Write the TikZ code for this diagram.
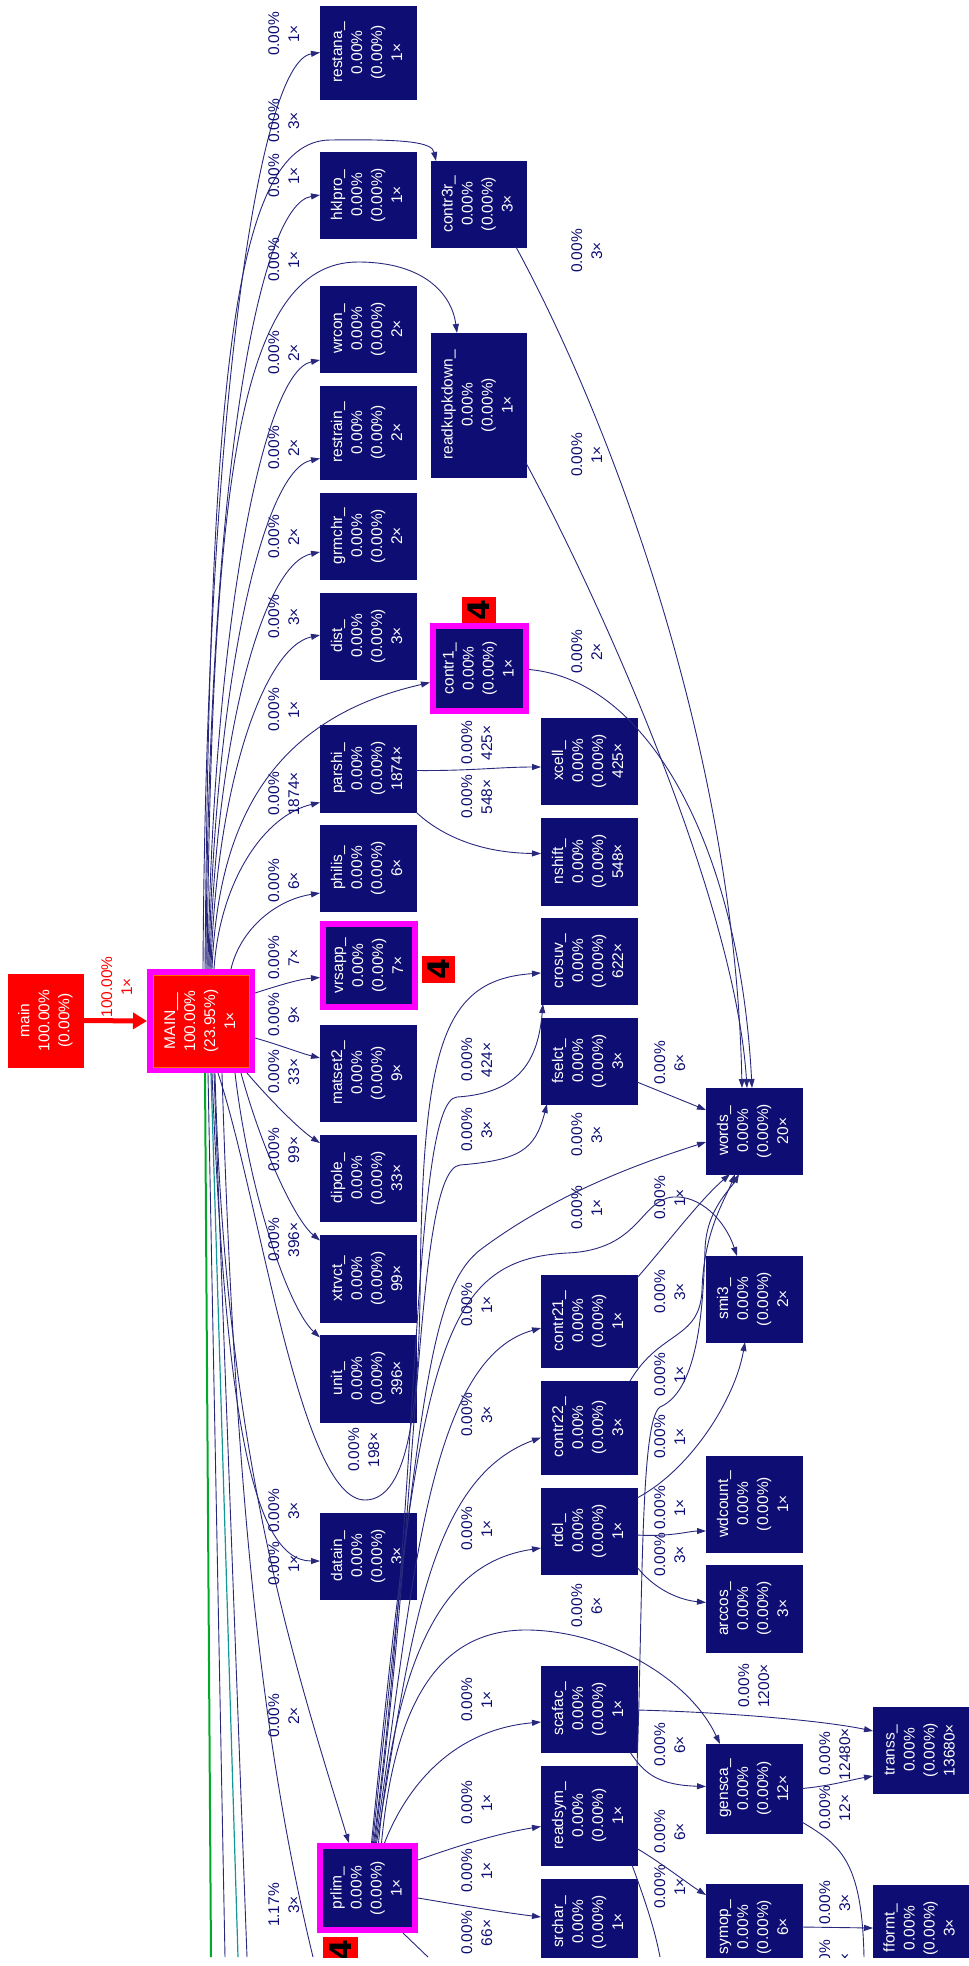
\documentclass[tikz,border=0pt]{standalone}
\usepackage{fontspec}
\setmainfont{Liberation Sans}
\newfontfamily\badgefont{DejaVu Sans}
\usetikzlibrary{arrows.meta,calc}
\definecolor{navy}{RGB}{13,13,115}
\definecolor{edgec}{RGB}{40,40,125}
\definecolor{mag}{RGB}{255,0,255}
\definecolor{grn}{RGB}{0,170,40}
\definecolor{teal2}{RGB}{20,150,150}
\newcommand\ntxt[1]{\rotatebox{90}{\begin{tabular}{@{}c@{}}#1\end{tabular}}}
\begin{document}
\begin{tikzpicture}[x=1pt,y=-1pt,
 fn/.style={rectangle, fill=navy, draw=navy, line width=0.5pt, inner sep=0pt, outer sep=0pt, text=white, font=\fontsize{15.5}{20}\selectfont},
 hl/.style={fn, draw=mag, line width=6pt, outer sep=3pt},
 lb/.style={inner sep=0pt, text=navy, font=\fontsize{15.5}{20}\selectfont},
 ed/.style={draw=edgec, line width=0.9pt, -{Triangle[length=9pt,width=6pt]}},
 fe/.style={draw=edgec, line width=0.9pt},
 badge/.style={rectangle, fill=red, inner sep=0pt, text=black, font=\badgefont\bfseries\fontsize{30}{30}\selectfont}
]
\useasboundingbox (0,0) rectangle (969,1966);
\begin{scope}
\clip (0,0) rectangle (969,1957);
% ---- nodes
\node[rectangle, fill=red, draw=red, text=white, minimum width=75, minimum height=93, inner sep=0pt, outer sep=0pt, font=\fontsize{15.5}{20}\selectfont] (main) at (45.5,1020.5) {\ntxt{main\\100.00\%\\(0.00\%)}};
\node[hl, fill=red, minimum width=102, minimum height=98] (MAIN) at (201,1021) {\ntxt{MAIN\_\_\\100.00\%\\(23.95\%)\\1×}};
\draw[orange!85!red, line width=1pt] ($(MAIN.north west)+(6,6)$) rectangle ($(MAIN.south east)+(-6,-6)$);

\node[fn, minimum width=96, minimum height=93] (restana) at (368,52.5) {\ntxt{restana\_\\0.00\%\\(0.00\%)\\1×}};
\node[fn, minimum width=96, minimum height=86] (hklpro) at (368,195) {\ntxt{hklpro\_\\0.00\%\\(0.00\%)\\1×}};
\node[fn, minimum width=96, minimum height=86] (wrcon) at (368,329) {\ntxt{wrcon\_\\0.00\%\\(0.00\%)\\2×}};
\node[fn, minimum width=96, minimum height=93] (restrain) at (368,432.5) {\ntxt{restrain\_\\0.00\%\\(0.00\%)\\2×}};
\node[fn, minimum width=96, minimum height=86] (grmchr) at (368,536) {\ntxt{grmchr\_\\0.00\%\\(0.00\%)\\2×}};
\node[fn, minimum width=96, minimum height=86] (dist) at (368,636) {\ntxt{dist\_\\0.00\%\\(0.00\%)\\3×}};
\node[fn, minimum width=96, minimum height=87] (parshi) at (368,768.5) {\ntxt{parshi\_\\0.00\%\\(0.00\%)\\1874×}};
\node[fn, minimum width=96, minimum height=86] (philis) at (368,868) {\ntxt{philis\_\\0.00\%\\(0.00\%)\\6×}};
\node[hl, minimum width=92, minimum height=83] (vrsapp) at (369,965.5) {\ntxt{vrsapp\_\\0.00\%\\(0.00\%)\\7×}};
\node[fn, minimum width=96, minimum height=96] (matset2) at (368,1073) {\ntxt{matset2\_\\0.00\%\\(0.00\%)\\9×}};
\node[fn, minimum width=96, minimum height=86] (dipole) at (368,1178) {\ntxt{dipole\_\\0.00\%\\(0.00\%)\\33×}};
\node[fn, minimum width=96, minimum height=87] (xtrvct) at (368,1278.5) {\ntxt{xtrvct\_\\0.00\%\\(0.00\%)\\99×}};
\node[fn, minimum width=96, minimum height=87] (unit) at (368,1378.5) {\ntxt{unit\_\\0.00\%\\(0.00\%)\\396×}};
\node[fn, minimum width=96, minimum height=86] (datain) at (368,1556) {\ntxt{datain\_\\0.00\%\\(0.00\%)\\3×}};
\node[hl, minimum width=95, minimum height=84] (prlim) at (367.5,1888) {\ntxt{prlim\_\\0.00\%\\(0.00\%)\\1×}};

\node[fn, minimum width=95, minimum height=86] (contr3r) at (478.5,204) {\ntxt{contr3r\_\\0.00\%\\(0.00\%)\\3×}};
\node[fn, minimum width=95, minimum height=144] (readkupkdown) at (478.5,405) {\ntxt{readkupkdown\_\\0.00\%\\(0.00\%)\\1×}};
\node[hl, minimum width=93, minimum height=85] (contr1) at (479.5,668.5) {\ntxt{contr1\_\\0.00\%\\(0.00\%)\\1×}};

\node[fn, minimum width=96, minimum height=86] (xcell) at (589,761) {\ntxt{xcell\_\\0.00\%\\(0.00\%)\\425×}};
\node[fn, minimum width=96, minimum height=87] (nshift) at (589,861.5) {\ntxt{nshift\_\\0.00\%\\(0.00\%)\\548×}};
\node[fn, minimum width=96, minimum height=86] (crosuv) at (589,961) {\ntxt{crosuv\_\\0.00\%\\(0.00\%)\\622×}};
\node[fn, minimum width=96, minimum height=86] (fselct) at (589,1061) {\ntxt{fselct\_\\0.00\%\\(0.00\%)\\3×}};
\node[fn, minimum width=96, minimum height=92] (contr21) at (589,1321) {\ntxt{contr21\_\\0.00\%\\(0.00\%)\\1×}};
\node[fn, minimum width=96, minimum height=93] (contr22) at (589,1427.5) {\ntxt{contr22\_\\0.00\%\\(0.00\%)\\3×}};
\node[fn, minimum width=96, minimum height=86] (rdcl) at (589,1531) {\ntxt{rdcl\_\\0.00\%\\(0.00\%)\\1×}};
\node[fn, minimum width=96, minimum height=86] (scafac) at (589,1709) {\ntxt{scafac\_\\0.00\%\\(0.00\%)\\1×}};
\node[fn, minimum width=96, minimum height=99] (readsym) at (589,1815.5) {\ntxt{readsym\_\\0.00\%\\(0.00\%)\\1×}};
\node[fn, minimum width=96, minimum height=86] (srchar) at (589,1922) {\ntxt{srchar\_\\0.00\%\\(0.00\%)\\1×}};

\node[fn, minimum width=96, minimum height=86] (words) at (754,1131) {\ntxt{words\_\\0.00\%\\(0.00\%)\\20×}};
\node[fn, minimum width=96, minimum height=86] (smi3) at (754,1299) {\ntxt{smi3\_\\0.00\%\\(0.00\%)\\2×}};
\node[fn, minimum width=96, minimum height=96] (wdcount) at (754,1504) {\ntxt{wdcount\_\\0.00\%\\(0.00\%)\\1×}};
\node[fn, minimum width=96, minimum height=87] (arccos) at (754,1608.5) {\ntxt{arccos\_\\0.00\%\\(0.00\%)\\3×}};
\node[fn, minimum width=96, minimum height=89] (gensca) at (754,1788.5) {\ntxt{gensca\_\\0.00\%\\(0.00\%)\\12×}};
\node[fn, minimum width=96, minimum height=86] (symop) at (754,1927) {\ntxt{symop\_\\0.00\%\\(0.00\%)\\6×}};
\node[fn, minimum width=95, minimum height=86] (transs) at (920.5,1750) {\ntxt{transs\_\\0.00\%\\(0.00\%)\\13680×}};
\node[fn, minimum width=95, minimum height=86] (fformt) at (920.5,1928) {\ntxt{fformt\_\\0.00\%\\(0.00\%)\\3×}};

\node[badge, minimum width=34, minimum height=26] (b1) at (479,610) {\rotatebox{90}{4}};
\node[badge, minimum width=33, minimum height=27] (b2) at (438.5,969.5) {\rotatebox{90}{4}};
\node[badge, minimum width=35, minimum height=26] (b3) at (340.5,1950) {\rotatebox{90}{4}};

% free ends
\coordinate (f1) at (211,1957);
\coordinate (f2) at (225,1957);
\coordinate (f3) at (238,1957);
\coordinate (f4) at (247,1957);
\coordinate (f5) at (313,1957);
\coordinate (f6) at (428,1957);
\coordinate (f7) at (660,1957);
\coordinate (f8) at (864,1957);

% ---- edges
\draw[draw=red, line width=5pt, -{Triangle[length=14pt,width=16pt]}] (main.east) -- (MAIN.west);
\node[lb, text=red] (lmain) at (118,987) {\ntxt{100.00\%\\1×}};

\draw[ed] ($(MAIN.north)+(2,0)$) .. controls (206,420) and (258,62) .. (restana.west);
\draw[ed] ($(MAIN.north)+(4,0)$) .. controls (210,400) and (230,141) .. (330,140) .. controls (405,139) and (432,142) .. ($(contr3r.north west)+(5,0)$);
\draw[ed] ($(MAIN.north)+(5,0)$) .. controls (208,480) and (258,205) .. (hklpro.west);
\draw[ed] ($(MAIN.north)+(6,0)$) .. controls (212,500) and (235,262) .. (358,262) .. controls (425,262) and (452,295) .. ($(readkupkdown.north west)+(26,0)$);
\draw[ed] ($(MAIN.north)+(7,0)$) .. controls (213,634) and (262,372) .. ($(wrcon.west)+(0,31)$);
\draw[ed] ($(MAIN.north)+(8,0)$) .. controls (214,688) and (262,470) .. ($(restrain.west)+(0,26)$);
\draw[ed] ($(MAIN.north)+(9,0)$) .. controls (215,740) and (262,564) .. ($(grmchr.west)+(0,16)$);
\draw[ed] ($(MAIN.north)+(10,0)$) .. controls (216,785) and (264,647) .. ($(dist.west)+(0,-1)$);
\draw[ed] ($(MAIN.north)+(11,0)$) .. controls (218,830) and (265,720) .. ($(contr1.west)+(0,14)$);
\draw[ed] ($(MAIN.north)+(13,0)$) .. controls (220,880) and (265,815) .. ($(parshi.west)+(0,34)$);
\draw[ed] ($(MAIN.north)+(30,0)$) .. controls (240,930) and (275,900) .. ($(philis.west)+(0,25)$);
\draw[ed] ($(MAIN.east)+(0,-28)$) .. controls (280,985) and (300,979) .. ($(vrsapp.west)+(0,12)$);
\draw[ed] ($(MAIN.east)+(0,17)$) .. controls (280,1045) and (300,1053) .. ($(matset2.west)+(0,-15)$);
\draw[ed] ($(MAIN.south east)+(-8,0)$) .. controls (270,1100) and (300,1130) .. ($(dipole.west)+(0,-35)$);
\draw[ed] ($(MAIN.south east)+(-14,0)$) .. controls (262,1150) and (295,1220) .. ($(xtrvct.west)+(0,-38)$);
\draw[ed] ($(MAIN.south east)+(-20,0)$) .. controls (250,1200) and (290,1310) .. ($(unit.west)+(0,-41)$);

\foreach \l/\y/\t in {a1/34/1×, a2/121/3×, a3/176/1×, a4/260/1×, a5/353/2×, a6/448/2×, a7/537/2×, a8/617/3×, a9/710/1×, a10/794/1874×, a11/881/6×, a12/958/7×, a13/1015/9×, a14/1072/33×, a15/1150/99×, a16/1240/396×, a17/1511/3×, a18/1564/1×, a19/1716/2×}
  \node[lb] (\l) at (285,\y) {\ntxt{0.00\%\\\t}};
\node[lb] (a20) at (285,1905) {\ntxt{1.17\%\\3×}};
\node[lb] (a21) at (365,1450) {\ntxt{0.00\%\\198×}};
\foreach \l/\y/\t in {b1l/743/425×, b2l/797/548×, b3l/1060/424×, b4l/1130/3×, b5l/1305/1×, b6l/1415/3×, b7l/1529/1×, b8l/1700/1×, b9l/1803/1×, b10l/1871/1×, b11l/1933/66×}
  \node[lb] (\l) at (478,\y) {\ntxt{0.00\%\\\t}};
\foreach \l/\y/\t in {c1l/251/3×, c2l/455/1×, c3l/652/2×, c4l/1135/3×, c5l/1208/1×, c6l/1606/6×}
  \node[lb] (\l) at (588,\y) {\ntxt{0.00\%\\\t}};
\foreach \l/\y/\t in {d1l/1063/6×, d2l/1198/1×, d3l/1292/3×, d4l/1375/1×, d5l/1437/1×, d6l/1508/1×, d7l/1555/3×, d8l/1745/6×, d9l/1832/6×, d10l/1887/1×}
  \node[lb] (\l) at (671,\y) {\ntxt{0.00\%\\\t}};
\node[lb] (e0l) at (755,1686) {\ntxt{0.00\%\\1200×}};
\foreach \l/\y/\t in {e1l/1754/12480×, e2l/1808/12×, e3l/1903/3×, e4l/1962/3×}
  \node[lb] (\l) at (836,\y) {\ntxt{0.00\%\\\t}};

% downward from MAIN
\draw[draw=grn, line width=2pt] ($(MAIN.south)+(4,0)$) -- (f1);
\draw[fe] ($(MAIN.south)+(7,0)$) -- (f2);
\draw[draw=teal2, line width=1.2pt] ($(MAIN.south)+(10,0)$) -- (f3);
\draw[fe] ($(MAIN.south)+(13,0)$) -- (f4);
\draw[fe] ($(MAIN.south)+(21,0)$) .. controls (235,1500) and (263,1750) .. (f5);
\draw[ed] ($(MAIN.south)+(14,0)$) .. controls (225,1450) and (290,1650) .. ($(prlim.north west)+(32,0)$);
\draw[ed] ($(MAIN.south)+(11,0)$) .. controls (225,1400) and (250,1561) .. ($(datain.west)+(0,5)$);
\draw[ed] ($(MAIN.south)+(17,0)$) .. controls (260,1200) and (300,1500) .. (365,1500) .. controls (410,1500) and (418,1400) .. (420,1300) .. controls (422,1050) and (440,980) .. ($(crosuv.west)+(0,12)$);

% from prlim
\draw[ed] ($(prlim.north)+(17,0)$) .. controls (405,1790) and (450,1730) .. ($(scafac.west)+(0,13)$);
\draw[ed] ($(prlim.north)+(14,0)$) .. controls (395,1700) and (440,1628) .. (530,1630) .. controls (610,1632) and (690,1680) .. ($(gensca.north west)+(14,0)$);
\draw[ed] ($(prlim.north)+(11,0)$) .. controls (400,1620) and (460,1560) .. ($(rdcl.west)+(0,17)$);
\draw[ed] ($(prlim.north)+(9,0)$) .. controls (410,1650) and (425,1480) .. ($(contr22.west)+(0,10)$);
\draw[ed] ($(prlim.north)+(8,0)$) .. controls (412,1600) and (425,1360) .. ($(contr21.west)+(0,7)$);
\draw[ed] ($(prlim.north)+(7,0)$) .. controls (420,1500) and (415,1170) .. (460,1165) .. controls (520,1160) and (535,1150) .. ($(fselct.south west)+(6,0)$);
\draw[ed] ($(prlim.north)+(6,0)$) .. controls (420,1500) and (412,1100) .. (457,1097) .. controls (520,1093) and (538,1060) .. ($(crosuv.south west)+(2,0)$);
\draw[ed] ($(prlim.north)+(5,0)$) .. controls (420,1400) and (430,1290) .. (480,1250) .. controls (560,1190) and (650,1160) .. ($(words.west)+(0,11)$);
\draw[ed] ($(prlim.north)+(4,0)$) .. controls (420,1350) and (440,1260) .. (567,1253) .. controls (640,1250) and (640,1200) .. (673,1197) .. controls (700,1195) and (725,1220) .. ($(smi3.north west)+(31,0)$);
\draw[ed] ($(prlim.east)+(0,-28)$) .. controls (460,1845) and (500,1833) .. ($(readsym.west)+(0,11)$);
\draw[ed] ($(prlim.east)+(0,10)$) .. controls (460,1905) and (500,1912) .. ($(srchar.west)+(0,-5)$);
\draw[fe] ($(prlim.south east)+(-15,0)$) -- (f6);

% others
\draw[ed] ($(parshi.east)+(0,2)$) .. controls (470,771) and (500,767) .. ($(xcell.west)+(0,6)$);
\draw[ed] (parshi.south east) .. controls (440,835) and (480,853) .. ($(nshift.west)+(0,-8)$);
\draw[ed] ($(contr3r.south east)+(-10,0)$) .. controls (610,420) and (735,750) .. ($(words.north west)+(36,0)$);
\draw[ed] ($(readkupkdown.south east)+(0,-14)$) .. controls (600,600) and (735,900) .. ($(words.north west)+(41,0)$);
\draw[ed] ($(contr1.east)+(0,1)$) .. controls (650,680) and (740,850) .. ($(words.north west)+(46,0)$);
\draw[ed] ($(fselct.east)+(0,21)$) -- ($(words.west)+(0,-21)$);
\draw[ed] ($(contr21.north east)+(0,3)$) .. controls (670,1240) and (700,1200) .. ($(words.south west)+(24,0)$);
\draw[ed] ($(contr22.north east)+(-7,0)$) .. controls (660,1330) and (700,1340) .. (702,1290) .. controls (704,1230) and (725,1200) .. ($(words.south west)+(29,0)$);
\draw[ed] ($(readsym.north east)+(0,0)$) .. controls (643,1600) and (640,1420) .. (660,1407) .. controls (700,1390) and (703,1300) .. (705,1250) .. controls (706,1210) and (730,1190) .. ($(words.south west)+(33,0)$);
\draw[ed] ($(rdcl.north east)+(0,10)$) .. controls (690,1470) and (735,1400) .. ($(smi3.south west)+(39,0)$);
\draw[ed] ($(rdcl.east)+(0,4)$) .. controls (670,1537) and (690,1531) .. ($(wdcount.west)+(0,27)$);
\draw[ed] ($(rdcl.south east)+(0,-7)$) .. controls (655,1590) and (680,1600) .. ($(arccos.west)+(0,-6)$);
\draw[ed] ($(scafac.east)+(0,1)$) .. controls (720,1712) and (820,1720) .. ($(transs.west)+(0,-19)$);
\draw[ed] ($(scafac.south east)+(-7,0)$) .. controls (645,1775) and (660,1785) .. ($(gensca.west)+(0,-2)$);
\draw[ed] (gensca.east) .. controls (830,1786) and (850,1780) .. ($(transs.west)+(0,26)$);
\draw[fe] ($(gensca.south east)+(0,-11)$) .. controls (840,1845) and (862,1860) .. (f8);
\draw[ed] ($(readsym.east)+(0,33)$) .. controls (660,1862) and (690,1885) .. ($(symop.north west)+(0,11)$);
\draw[fe] ($(readsym.south east)+(-5,0)$) .. controls (645,1900) and (655,1930) .. (f7);
\draw[ed] (symop.east) -- (fformt.west);
\end{scope}
\end{tikzpicture}
\end{document}
